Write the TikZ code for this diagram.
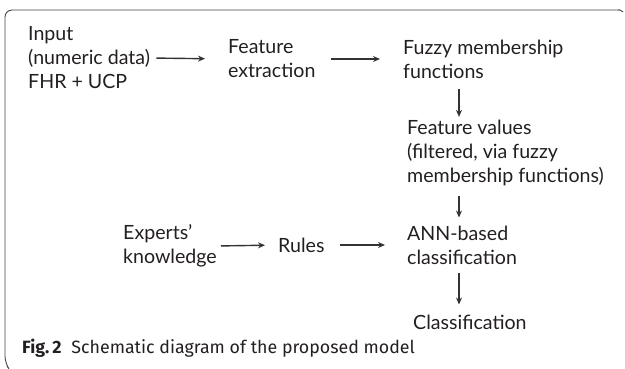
\documentclass[tikz,border=0pt]{standalone}
\usepackage{fontspec}
\setmainfont{Lato}
\newfontfamily\capfont{Fira Sans}
\usetikzlibrary{arrows.meta}
\definecolor{txt}{HTML}{231F20}
\definecolor{arrc}{HTML}{333333}
\definecolor{frm}{HTML}{444444}
\begin{document}
\begin{tikzpicture}[x=1pt,y=-1pt,
  lbl/.style={anchor=west,inner sep=0pt,align=left,text=txt,
    font=\fontsize{19.6}{24}\selectfont},
  arr/.style={draw=arrc,line width=1.4pt,-{Stealth[length=7pt,width=6pt]}},
  frame/.style={draw=frm,line width=0.9pt}]
\useasboundingbox (0,0) rectangle (625,368);
\draw[frame,rounded corners=7pt] (7,366) -- (5,363) -- (5,10) -- (620,10);
\draw[frame,rounded corners=2pt] (618,10) -- (622,10) -- (623,12);
\coordinate (ax) at (459,0);
\node[lbl] (input) at (28,58) {Input\\(numeric data)\\FHR + UCP};
\node[lbl] (fe) at (228,59) {Feature\\extraction};
\node[lbl] (fmf) at (403,59) {Fuzzy membership\\functions};
\node[lbl] (fv) at (407,153) {Feature values\\(filtered, via fuzzy\\membership functions)};
\node[lbl] (ann) at (407,245) {ANN-based\\classification};
\node[lbl] (cls) at (413,322) {Classification};
\node[lbl] (rules) at (278,245) {Rules};
\node[lbl] (exp) at (123,246) {Experts'\\knowledge};
\node[anchor=west,inner sep=0pt,text=txt,font=\capfont\fontsize{17.8}{21}\selectfont] (cap) at (22,348)
  {\textbf{Fig.\,2}\hspace{0.55em}Schematic diagram of the proposed model};
\draw[arr,shorten <=6pt,shorten >=23pt] (input.east) -- (fe.west);
\draw[arr,shorten <=15pt,shorten >=23pt] (fe.east) -- (fmf.west);
\draw[arr,shorten <=10pt,shorten >=3pt] (fmf.south -| ax) -- (fv.north -| ax);
\draw[arr,shorten <=10pt,shorten >=8pt] (fv.south -| ax) -- (ann.north -| ax);
\draw[arr,shorten <=8pt,shorten >=10pt] (ann.south -| ax) -- (cls.north -| ax);
\draw[arr,shorten <=4pt,shorten >=13pt] (exp.east) -- (rules.west);
\draw[arr,shorten <=15pt,shorten >=22pt] (rules.east) -- (ann.west);
\end{tikzpicture}
\end{document}
